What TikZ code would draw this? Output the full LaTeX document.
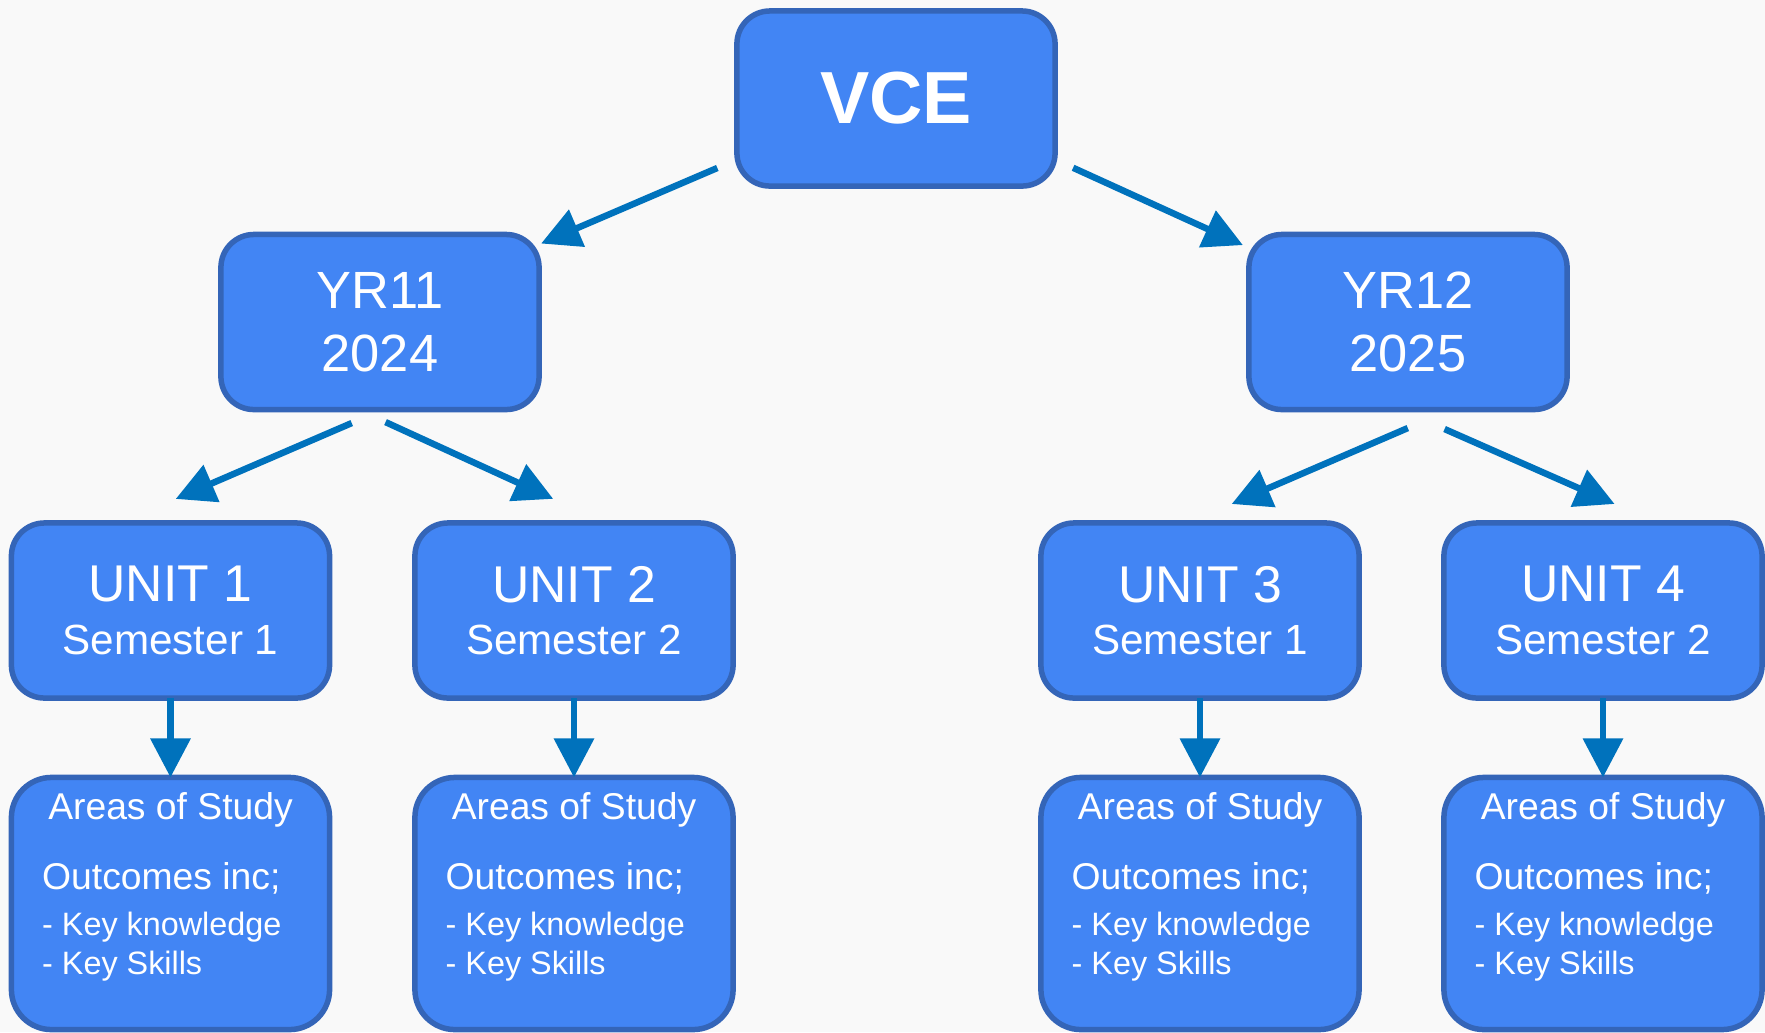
\documentclass[tikz,border=0pt]{standalone}
\usepackage{fontspec}
\setmainfont{Liberation Sans}
\usetikzlibrary{arrows.meta}
\definecolor{boxfill}{HTML}{4285F4}
\definecolor{boxline}{HTML}{3465B8}
\definecolor{arrowblue}{HTML}{0072BC}
\definecolor{paper}{HTML}{F9F9F9}

\begin{document}
\begin{tikzpicture}[x=0.01cm, y=-0.01cm,
  box/.style={draw=boxline, fill=boxfill, line width=0.055cm, rounded corners=0.33cm, minimum width=3.18cm, minimum height=1.75cm, text=white, align=center, inner sep=0pt, outer sep=0pt},
  area/.style={box, minimum height=2.52cm, rounded corners=0.4cm},
  arr/.style={draw=arrowblue, line width=0.065cm, -{Triangle[length=0.39cm, width=0.39cm]}},
  txt/.style={text=white, inner sep=0pt, anchor=base west, font=\fontsize{10.6}{12.7}\selectfont}]
  \useasboundingbox[fill=paper] (0,0) rectangle (1765,1032);
  \node[box, font=\fontsize{21}{25}\selectfont\bfseries] (vce) at (896,98.5) {VCE};
  \node[box, font=\fontsize{14.9}{17.9}\selectfont] (yr11) at (380,322) {YR11\\2024};
  \node[box, font=\fontsize{14.9}{17.9}\selectfont] (yr12) at (1408,322) {YR12\\2025};
  \foreach \n/\cx/\sem in {1/170.5/1, 2/574/2, 3/1200/1, 4/1603/2} {
    \node[box, font=\fontsize{14.7}{14.9}\selectfont] (u\n) at (\cx,610.5) {UNIT \n\\{\fontsize{12}{14.9}\selectfont Semester \sem}};
    \node[area] (a\n) at (\cx,903.5) {};
    \node[txt, anchor=base] (s\n) at (\cx,819.3) {Areas of Study};
    \node[txt] (o\n) at (\cx-129,889.3) {Outcomes inc;};
    \node[txt, font=\fontsize{9.2}{11}\selectfont] (k\n) at (\cx-129,935) {- Key knowledge};
    \node[txt, font=\fontsize{9.2}{11}\selectfont] (ks\n) at (\cx-129,974.3) {- Key Skills};
    \draw[arr] (u\n) -- (a\n);
  }
  \draw[arr, shorten <=0.213cm, shorten >=0.022cm] (vce.201) -- (yr11.26);
  \draw[arr, shorten <=0.198cm, shorten >=0.066cm] (vce.339) -- (yr12.155);
  \draw[arr, shorten <=0.341cm, shorten >=0.607cm] (yr11.272) -- (u1.120);
  \draw[arr, shorten <=0.301cm, shorten >=0.579cm] (yr11.256) -- (u2.70);
  \draw[arr, shorten <=0.467cm, shorten >=0.479cm] (yr12.296) -- (u3.98);
  \draw[arr, shorten <=0.483cm, shorten >=0.471cm] (yr12.265) -- (u4.58);
\end{tikzpicture}
\end{document}
